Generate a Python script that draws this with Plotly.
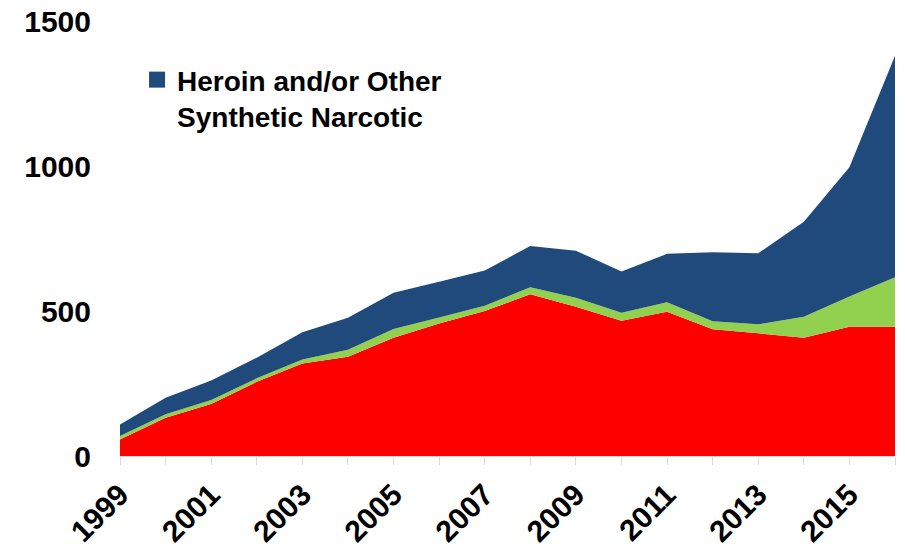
import plotly.graph_objects as go

years = list(range(1999, 2017))
red_vals = [57, 132, 179, 256, 319, 342, 408, 457, 500, 558, 515, 466, 497, 437, 423, 408, 446, 446]
green_vals = [12, 12, 14, 12, 14, 24, 30, 21, 18, 24, 31, 28, 33, 28, 31, 72, 104, 170]
blue_vals = [40, 57, 67, 71, 94, 111, 125, 123, 122, 142, 162, 142, 167, 238, 245, 328, 446, 764]
legend_name = "Heroin and/or Other<br>Synthetic Narcotic"
y_ticks = [0, 500, 1000, 1500]

RED = "#FF0000"
GREEN = "#92D050"
BLUE = "#214A7C"
FONT = "Liberation Sans"

fig = go.Figure()
fig.add_trace(go.Scatter(x=years, y=red_vals, stackgroup="one", mode="none",
                         fillcolor=RED, line=dict(width=0), showlegend=False, name="red"))
fig.add_trace(go.Scatter(x=years, y=green_vals, stackgroup="one", mode="none",
                         fillcolor=GREEN, line=dict(width=0), showlegend=False, name="green"))
fig.add_trace(go.Scatter(x=years, y=blue_vals, stackgroup="one", mode="none",
                         fillcolor=BLUE, line=dict(width=0), showlegend=False, name="blue"))
# legend entry
fig.add_trace(go.Scatter(x=[None], y=[None], mode="markers", name=legend_name,
                         marker=dict(symbol="square", size=17, color=BLUE), showlegend=True))

fig.update_layout(
    width=905, height=549,
    margin=dict(l=120, r=10, t=21, b=93, autoexpand=False),
    paper_bgcolor="white", plot_bgcolor="white",
    font=dict(family=FONT, size=30, color="black", weight="bold"),
    showlegend=True,
    legend=dict(x=0.022, y=0.922, xanchor="left", yanchor="top", bgcolor="rgba(0,0,0,0)",
                valign="top", font=dict(family=FONT, size=28, weight="bold")),
    xaxis=dict(range=[1999, 2016], tickmode="linear", tick0=1999, dtick=2,
               tickangle=-45, showgrid=False, zeroline=False, automargin=False,
               showline=True, linecolor="#D9D9D9", linewidth=1,
               ticks="outside", ticklen=8, tickcolor="#D9D9D9",
               minor=dict(dtick=1, tick0=1999, ticks="outside", ticklen=8, tickcolor="#D9D9D9", showgrid=False),
               tickfont=dict(family=FONT, size=30, weight="bold")),
    yaxis=dict(range=[0, 1500], tickvals=y_ticks, showgrid=False, zeroline=False, automargin=False,
               showline=False, ticks="", ticklabelstandoff=28,
               tickfont=dict(family=FONT, size=30, weight="bold")),
)

fig.write_html("out.html")
